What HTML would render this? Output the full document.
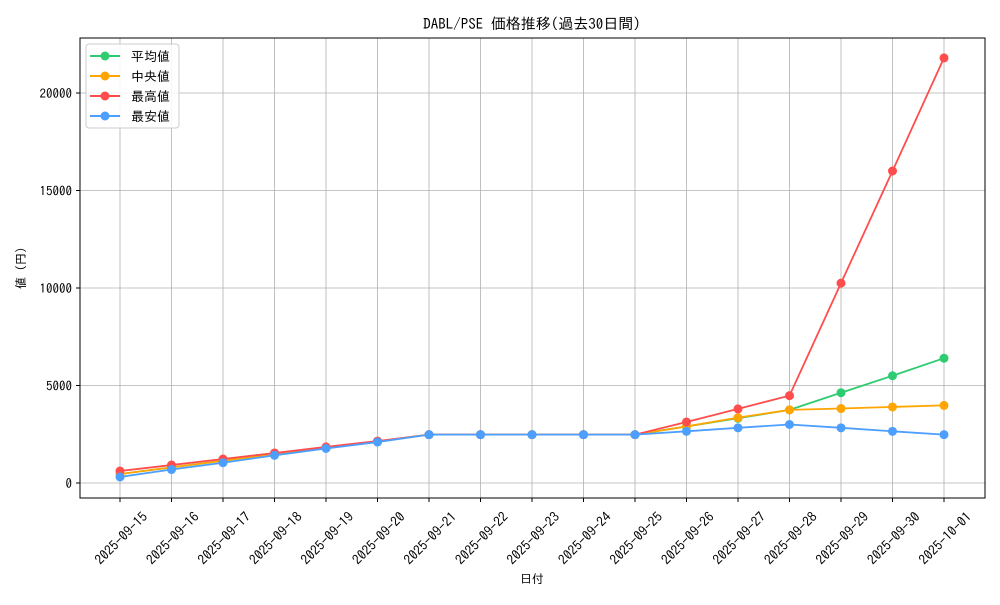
<!DOCTYPE html>
<html><head><meta charset="utf-8"><style>
body{margin:0;background:#fff;}
svg text{font-family:"IPAGothic","Noto Sans CJK JP",monospace;fill:#000;}
</style></head><body>
<svg id="s" width="1000" height="600" xmlns="http://www.w3.org/2000/svg">
<rect width="1000" height="600" fill="#fff"/>
<g id="grid"></g>
<g id="series"></g>
<rect x="80" y="38" width="905" height="460" fill="none" stroke="#000" stroke-width="1"/>
<g id="ticks"></g>
<text x="532" y="29" font-size="15" text-anchor="middle">DABL/PSE 価格推移(過去30日間)</text>
<text x="532" y="583" font-size="12" text-anchor="middle">日付</text>
<text transform="translate(25,268) rotate(-90)" font-size="12" text-anchor="middle">値 (円)</text>
<g>
<rect x="86" y="44" width="93" height="84" rx="3" fill="#fff" fill-opacity="0.85" stroke="#ccc"/>
<line x1="90" y1="56" x2="120" y2="56" stroke="#2ecc71" stroke-width="2"/><circle cx="105" cy="56" r="4.5" fill="#2ecc71"/><text x="131" y="61" font-size="13">平均値</text>
<line x1="90" y1="76" x2="120" y2="76" stroke="#ffa500" stroke-width="2"/><circle cx="105" cy="76" r="4.5" fill="#ffa500"/><text x="131" y="81" font-size="13">中央値</text>
<line x1="90" y1="96" x2="120" y2="96" stroke="#ff4d4d" stroke-width="2"/><circle cx="105" cy="96" r="4.5" fill="#ff4d4d"/><text x="131" y="101" font-size="13">最高値</text>
<line x1="90" y1="116" x2="120" y2="116" stroke="#4d9fff" stroke-width="2"/><circle cx="105" cy="116" r="4.5" fill="#4d9fff"/><text x="131" y="121" font-size="13">最安値</text>
</g>
</svg>
<script>
const NS="http://www.w3.org/2000/svg";
function el(p,t,a,txt){const e=document.createElementNS(NS,t);for(const k in a)e.setAttribute(k,a[k]);if(txt!==undefined)e.textContent=txt;document.getElementById(p).appendChild(e);}
const X=i=>120+i*51.5, Y=v=>483-v*0.0195;
const dates=["2025-09-15","2025-09-16","2025-09-17","2025-09-18","2025-09-19","2025-09-20","2025-09-21","2025-09-22","2025-09-23","2025-09-24","2025-09-25","2025-09-26","2025-09-27","2025-09-28","2025-09-29","2025-09-30","2025-10-01"];
dates.forEach((d,i)=>{const x=X(i);
el("grid","line",{x1:x,y1:38,x2:x,y2:498,stroke:"#b0b0b0","stroke-width":0.8});
el("ticks","line",{x1:x,y1:498,x2:x,y2:502,stroke:"#000"});
el("ticks","text",{transform:`translate(${x+1},${538}) rotate(-45)`,"font-size":13.5,"text-anchor":"middle","dominant-baseline":"central"},d);});
[0,5000,10000,15000,20000].forEach(v=>{const y=Y(v);
el("grid","line",{x1:80,y1:y,x2:985,y2:y,stroke:"#b0b0b0","stroke-width":0.8});
el("ticks","line",{x1:76,y1:y,x2:80,y2:y,stroke:"#000"});
el("ticks","text",{x:72,y:y+5,"font-size":13,"text-anchor":"end"},v);});
const S=[
["#2ecc71",[460,800,1140,1480,1810,2130,2480,2480,2480,2480,2480,2900,3320,3750,4630,5500,6400]],
["#ffa500",[460,800,1140,1480,1810,2130,2480,2480,2480,2480,2480,2900,3350,3750,3820,3900,3980]],
["#ff4d4d",[615,920,1230,1540,1850,2150,2480,2480,2480,2480,2480,3130,3800,4480,10250,16000,21800]],
["#4d9fff",[310,690,1040,1420,1770,2100,2480,2480,2480,2480,2480,2650,2830,3000,2830,2650,2480]]];
S.forEach(([c,d])=>{el("series","polyline",{points:d.map((v,i)=>X(i)+","+Y(v)).join(" "),fill:"none",stroke:c,"stroke-width":1.8});
d.forEach((v,i)=>el("series","circle",{cx:X(i),cy:Y(v),r:4.5,fill:c}));});
</script>
</body></html>
